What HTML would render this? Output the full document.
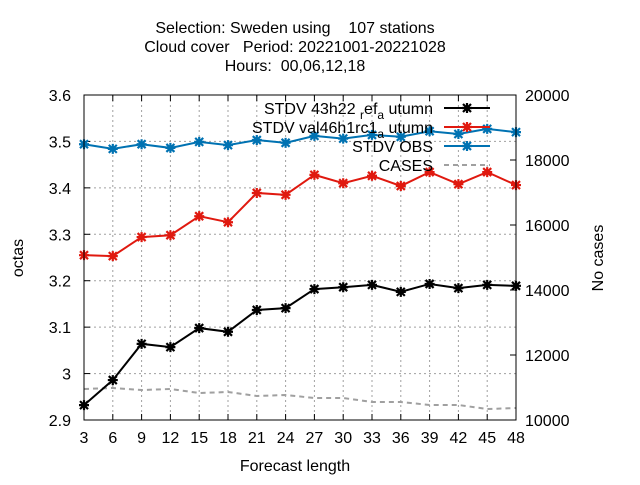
<!DOCTYPE html>
<html><head><meta charset="utf-8"><style>
body{margin:0;background:#fff}
svg{font-family:"Liberation Sans",sans-serif;font-size:16px}
text{white-space:pre}
</style></head><body>
<svg id="chart" width="640" height="480">
<g id="g"></g>
</svg>
<script>
const xCats=[3,6,9,12,15,18,21,24,27,30,33,36,39,42,45,48];
const yTicks=[2.9,3,3.1,3.2,3.3,3.4,3.5,3.6];
const yTickLabels=["2.9","3","3.1","3.2","3.3","3.4","3.5","3.6"];
const y2Ticks=[10000,12000,14000,16000,18000,20000];
const refVals=[2.932,2.986,3.064,3.057,3.098,3.090,3.137,3.141,3.182,3.186,3.191,3.176,3.193,3.184,3.191,3.189];
const valVals=[3.255,3.253,3.294,3.298,3.339,3.326,3.389,3.385,3.428,3.410,3.426,3.404,3.434,3.408,3.434,3.406];
const obsVals=[3.494,3.484,3.494,3.486,3.499,3.492,3.503,3.497,3.512,3.506,3.514,3.510,3.522,3.516,3.527,3.520];
const casesVals=[10954,10985,10923,10954,10831,10862,10738,10769,10677,10677,10554,10554,10462,10462,10338,10369];

const L=84,R=516,T=95,B=420;
const X=v=>L+(v-3)/(48-3)*(R-L);
const Y=v=>B-(v-2.9)/(0.7)*(B-T);
const Y2=v=>B-(v-10000)/10000*(B-T);
const g=document.getElementById('g');
const NS='http://www.w3.org/2000/svg';
function mk(tag,attrs,name,txt){const e=document.createElementNS(NS,tag);for(const k in attrs)e.setAttribute(k,attrs[k]);


if(txt!==undefined)e.textContent=txt;g.appendChild(e);return e;}
xCats.forEach(c=>{if(c>3&&c<48)mk('line',{x1:X(c),x2:X(c),y1:T,y2:B,stroke:'#a0a0a0','stroke-dasharray':'2,3','stroke-width':1},'x-grid-line');});
yTicks.forEach(t=>{if(t>2.91&&t<3.59)mk('line',{x1:L,x2:R,y1:Y(t),y2:Y(t),stroke:'#a0a0a0','stroke-dasharray':'2,3','stroke-width':1},'y-grid-line');});
xCats.forEach(c=>{mk('line',{x1:X(c),x2:X(c),y1:B,y2:B-6,stroke:'#000'},'x-tick');mk('line',{x1:X(c),x2:X(c),y1:T,y2:T+6,stroke:'#000'},'x-tick-top');
mk('text',{x:X(c),y:B+23,'text-anchor':'middle'},'x-tick-label',String(c));});
yTicks.forEach((t,i)=>{mk('line',{x1:L,x2:L+6,y1:Y(t),y2:Y(t),stroke:'#000'},'y-tick');
mk('text',{x:L-13,y:Y(t)+6,'text-anchor':'end'},'y-tick-label',yTickLabels[i]);});
y2Ticks.forEach(t=>{mk('line',{x1:R,x2:R-6,y1:Y2(t),y2:Y2(t),stroke:'#000'},'y2-tick');
mk('text',{x:R+9,y:Y2(t)+6,'text-anchor':'start'},'y2-tick-label',String(t));});
const leg=[["a","#000",0],["b","#e0190f",0],["c","#0072b2",0],["d","#a0a0a0",1]];
function series(vals,color,yf,name,dash){
 const pts=vals.map((v,i)=>X(xCats[i])+','+yf(v)).join(' ');
 mk('polyline',{points:pts,fill:'none',stroke:color,'stroke-width':2,'stroke-dasharray':dash?'5,4':'none'},name+'-line');
 if(!dash)vals.forEach((v,i)=>marker(X(xCats[i]),yf(v),color,name+'-point'));
}
function marker(x,y,c,name){const s=4;
 mk('path',{d:`M${x-s},${y-s}L${x+s},${y+s}M${x-s},${y+s}L${x+s},${y-s}M${x-s-1},${y}L${x+s+1},${y}M${x},${y-s-1}L${x},${y+s+1}`,stroke:c,'stroke-width':2.2},name);}
series(casesVals,'#a0a0a0',Y2,'cases',true);
series(obsVals,'#0072b2',Y,'stdv-obs');
series(valVals,'#e0190f',Y,'stdv-val46h1rc1');
series(refVals,'#000',Y,'stdv-43h22');
const ly=[108,127,146,165];
const labels=['STDV 43h22 <tspan baseline-shift="-5" font-size="12">r</tspan>ef<tspan baseline-shift="-5" font-size="12">a</tspan> utumn','STDV val46h1rc1<tspan baseline-shift="-5" font-size="12">a</tspan> utumn','STDV OBS','CASES'];
leg.forEach((l,i)=>{const t=mk('text',{x:433,y:ly[i]+6,'text-anchor':'end'},'legend-label-'+i);t.innerHTML=labels[i];
 mk('line',{x1:444,x2:490,y1:ly[i],y2:ly[i],stroke:l[1],'stroke-width':2,'stroke-dasharray':l[2]?'5,4':'none'},'legend-sample-'+i);
 if(!l[2])marker(467,ly[i],l[1],'legend-marker-'+i);});
mk('rect',{x:L,y:T,width:R-L,height:B-T,fill:'none',stroke:'#000','stroke-width':1},'plot-frame');
mk('text',{x:295,y:33,'text-anchor':'middle'},'title-line-1','Selection: Sweden using    107 stations');
mk('text',{x:295,y:52,'text-anchor':'middle'},'title-line-2','Cloud cover   Period: 20221001-20221028');
mk('text',{x:295,y:71,'text-anchor':'middle'},'title-line-3','Hours:  00,06,12,18');
mk('text',{x:295,y:471,'text-anchor':'middle'},'x-axis-title','Forecast length');
mk('text',{x:23,y:258,'text-anchor':'middle',transform:'rotate(-90 23 258)'},'y-axis-title','octas');
mk('text',{x:603,y:258,'text-anchor':'middle',transform:'rotate(-90 603 258)'},'y2-axis-title','No cases');
</script>
</body></html>
